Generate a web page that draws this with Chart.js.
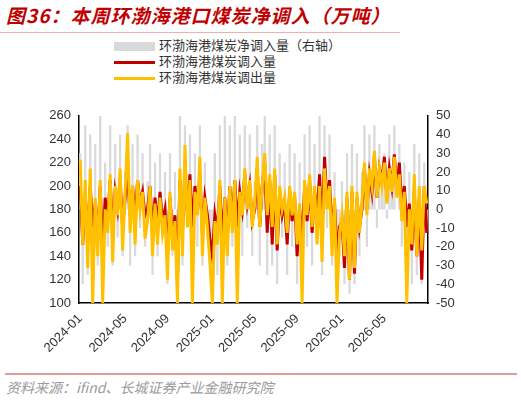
<!DOCTYPE html>
<html>
<head>
<meta charset="utf-8">
<script src="https://cdn.jsdelivr.net/npm/chart.js@4"></script>
<style>
body { margin:0; width:521px; height:402px; background:#fff; position:relative; overflow:hidden; font-family:"Noto Sans CJK SC","Noto Sans",sans-serif; }
#title { position:absolute; left:6px; top:1px; font-size:19px; font-weight:bold; font-style:italic; color:#c00000; letter-spacing:1px; }
#rule1 { position:absolute; left:0; top:32px; width:400px; height:1px; background:#f0b0b0; }
#rule2 { position:absolute; left:5px; top:373px; width:512px; height:2px; background:#e09a9a; }
#src { position:absolute; left:6px; top:377px; font-size:14px; font-style:italic; color:#9a9a9a; }
#legend { position:absolute; left:114px; top:37px; font-size:13px; color:#333; line-height:16px; }
#legend span.k { display:inline-block; width:41px; vertical-align:middle; margin-right:4px; }
#wrap { position:absolute; left:0; top:105px; width:521px; height:260px; }
</style>
</head>
<body>
<div id="title">图36：本周环渤海港口煤炭净调入（万吨）</div>
<div id="rule1"></div>
<div id="legend">
  <div><span class="k" style="height:9px;background:#d9d9d9"></span>环渤海港煤炭净调入量（右轴）</div>
  <div><span class="k" style="height:3px;background:#c00000"></span>环渤海港煤炭调入量</div>
  <div><span class="k" style="height:3px;background:#ffc000"></span>环渤海港煤炭调出量</div>
</div>
<div id="wrap"><canvas id="myChart"></canvas></div>
<div id="rule2"></div>
<div id="src">资料来源：ifind、长城证券产业金融研究院</div>
<script>
// 周度数据，2024-01-01 起
var startDate = '2024-01-01';
var tickMonths = [1, 5, 9];

var diaoChu = [222,150,205,130,215,100,190,140,205,100,180,160,210,135,200,175,215,145,
  195,245,160,200,150,205,180,195,155,170,200,140,185,150,190,160,175,
  120,195,145,170,100,215,140,235,165,205,100,195,175,225,140,190,165,135,
  100,170,150,205,100,190,140,200,160,205,100,195,175,215,180,205,165,
  185,225,165,200,228,175,210,165,215,150,200,180,190,160,200,175,195,
  150,185,100,205,175,210,165,200,150,200,135,215,180,200,140,190,100,160,
  175,140,195,120,200,130,195,160,185,220,175,215,200,230,190,215,200,
  220,185,215,195,225,190,210,170,195,100,180,150,210,140,200,145,200,185];

var diaoRu = [200,150,190,160,200,165,185,155,200,145,190,170,205,160,195,180,205,165,
  190,210,175,200,170,205,185,195,175,180,200,160,190,165,195,170,180,
  140,190,155,175,120,205,160,215,175,210,165,200,180,210,160,190,175,155,
  140,175,160,200,150,190,155,200,170,205,165,195,180,210,185,200,170,
  180,215,165,200,220,160,205,150,210,145,195,175,185,150,195,170,190,
  140,180,150,200,170,205,160,195,175,210,160,225,185,205,160,185,140,165,
  170,130,190,120,195,125,190,165,180,215,180,210,195,225,190,215,205,
  225,190,215,200,227,195,220,180,200,165,185,145,195,140,190,120,200,160];

var jingDiaoRu = [30,-40,45,-35,40,-45,35,-30,50,-40,25,-20,45,-30,35,-15,40,-25,
  20,45,-30,35,-25,40,-10,30,-20,15,35,-35,25,-25,30,-15,20,
  -40,30,-25,20,-45,50,-30,45,-10,40,-35,30,-20,45,-30,25,-15,-30,
  -45,30,-35,45,-40,50,-30,45,-20,50,-40,40,-25,45,-10,40,-25,
  15,45,-30,35,50,-35,40,-30,45,-40,30,-15,25,-35,35,-20,30,
  -40,25,-45,40,-20,45,-30,35,-15,50,-35,45,-10,40,-30,20,-45,-25,
  15,-40,30,-45,35,-40,30,-25,20,45,-20,40,5,45,-10,35,10,
  30,-5,40,10,45,0,35,-20,25,-45,20,-40,35,-35,30,-40,25,-10];

// 生成周度日期标签
var fechas = [];
var d0 = new Date(startDate + 'T00:00:00Z');
for (var i = 0; i < diaoChu.length; i++) {
  var d = new Date(d0.getTime() + i * 7 * 86400000);
  fechas.push(d.toISOString().slice(0, 10));
}

function etiqueta(idx) {
  var f = fechas[idx];
  var m = parseInt(f.slice(5, 7), 10);
  var prev = idx > 0 ? fechas[idx - 1].slice(0, 7) : '';
  if (tickMonths.indexOf(m) >= 0 && prev !== f.slice(0, 7)) return f.slice(0, 7);
  return null;
}

var fuente = { family: "'Liberation Sans', Arial, sans-serif", size: 13 };

new Chart(document.getElementById('myChart'), {
  data: {
    labels: fechas,
    datasets: [
      { type: 'bar', label: '环渤海港煤炭净调入量（右轴）', data: jingDiaoRu, yAxisID: 'y1',
        backgroundColor: '#d9d9d9', barPercentage: 0.9, categoryPercentage: 1, order: 3 },
      { type: 'line', label: '环渤海港煤炭调入量', data: diaoRu, yAxisID: 'y',
        borderColor: '#c00000', borderWidth: 3, pointRadius: 0, tension: 0, order: 2 },
      { type: 'line', label: '环渤海港煤炭调出量', data: diaoChu, yAxisID: 'y',
        borderColor: '#ffc000', borderWidth: 3, pointRadius: 0, tension: 0, order: 1 }
    ]
  },
  options: {
    responsive: true,
    maintainAspectRatio: false,
    animation: false,
    layout: { padding: { left: 40, right: 55, top: 6, bottom: 0 } },
    plugins: { legend: { display: false }, tooltip: { enabled: false } },
    scales: {
      x: {
        grid: { display: false, drawTicks: true, tickLength: 5, color: '#000' },
        border: { color: '#000', width: 1.5 },
        ticks: {
          autoSkip: false, maxRotation: 45, minRotation: 45, color: '#333', font: fuente,
          callback: function (v, idx) { return etiqueta(idx); }
        },
        afterFit: function (s) { s.height = 62; }
      },
      y: {
        position: 'left', min: 100, max: 260,
        ticks: { stepSize: 20, color: '#333', font: fuente },
        grid: { display: false, drawTicks: true, tickLength: 5 },
        border: { color: '#000', width: 1.5 },
        afterFit: function (s) { s.width = 39; }
      },
      y1: {
        position: 'right', min: -50, max: 50,
        ticks: { stepSize: 10, color: '#333', font: fuente },
        grid: { display: false, drawTicks: true, tickLength: 5 },
        border: { color: '#000', width: 1.5 },
        afterFit: function (s) { s.width = 38; }
      }
    }
  }
});
</script>
</body>
</html>
